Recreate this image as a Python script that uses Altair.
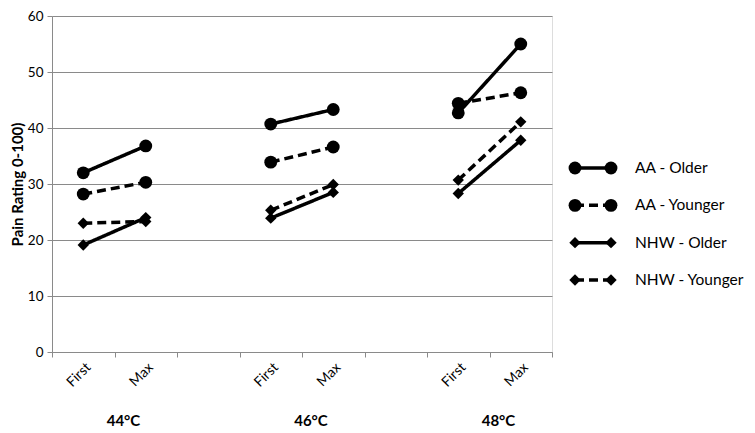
import altair as alt
import pandas as pd

groups = ["44°C", "46°C", "48°C"]
group_keys = ["44", "46", "48"]
stages = ["First", "Max"]
series = ["AA - Older", "AA - Younger", "NHW - Older", "NHW - Younger"]

# values per series: [44 First, 44 Max, 46 First, 46 Max, 48 First, 48 Max]
aa_older = [32.0, 36.8, 40.7, 43.3, 42.7, 55.0]
aa_younger = [28.2, 30.3, 33.9, 36.6, 44.4, 46.3]
nhw_older = [19.1, 24.0, 23.9, 28.5, 28.3, 37.8]
nhw_younger = [23.0, 23.3, 25.3, 29.9, 30.7, 41.1]

cats = ["44|First", "44|Max", "gap1", "46|First", "46|Max", "gap2", "48|First", "48|Max"]

rows = []
for s, vals in zip(series, [aa_older, aa_younger, nhw_older, nhw_younger]):
    i = 0
    for gk, g in zip(group_keys, groups):
        for st in stages:
            rows.append({"series": s, "group": g, "cat": f"{gk}|{st}", "value": vals[i],
                         "kind": "AA" if s.startswith("AA") else "NHW"})
            i += 1
df = pd.DataFrame(rows)

labels_df = pd.DataFrame({"group": groups, "cat": ["44|Max", "46|Max", "48|Max"]})

leg_rows = []
for s in series:
    for e in [0, 1]:
        leg_rows.append({"series": s, "end": e, "kind": "AA" if s.startswith("AA") else "NHW"})
leg_df = pd.DataFrame(leg_rows)

FONT = "Lato"
GRID = "#8a8a8a"

dash_scale = alt.Scale(domain=series, range=[[1, 0], [9, 5], [1, 0], [9, 5]])

x_enc = alt.X("cat:N", scale=alt.Scale(domain=cats, paddingInner=0, paddingOuter=0),
              axis=alt.Axis(title=None, labelAngle=-45, tickBand="extent",
                            labelExpr="indexof(datum.label,'|')>=0 ? split(datum.label,'|')[1] : ''",
                            labelFontSize=14, labelFont=FONT, labelColor="black",
                            domainColor=GRID, tickColor=GRID, tickSize=5, labelPadding=3,
                            grid=False))
y_enc = alt.Y("value:Q", scale=alt.Scale(domain=[0, 60], nice=False),
              axis=alt.Axis(title="Pain Rating 0-100)", values=[0, 10, 20, 30, 40, 50, 60],
                            titleFont=FONT, titleFontSize=15, titleFontWeight="bold",
                            titleColor="black", titlePadding=2,
                            labelFont=FONT, labelFontSize=13.5, labelColor="black",
                            labelPadding=4, tickSize=5, tickColor=GRID, domainColor=GRID,
                            gridColor=GRID, grid=True))

base = alt.Chart(df)
lines = base.mark_line(color="black", strokeWidth=3.5).encode(
    x=x_enc, y=y_enc,
    strokeDash=alt.StrokeDash("series:N", scale=dash_scale, legend=None),
    detail="group:N",
)
pts_c = base.transform_filter("datum.kind == 'AA'").mark_point(
    shape="circle", size=165, filled=True, color="black", opacity=1).encode(
    x=alt.X("cat:N"), y=alt.Y("value:Q"))
pts_d = base.transform_filter("datum.kind == 'NHW'").mark_point(
    shape="diamond", size=130, filled=True, color="black", opacity=1).encode(
    x=alt.X("cat:N"), y=alt.Y("value:Q"))
grp_text = alt.Chart(labels_df).mark_text(
    font=FONT, fontSize=15, fontWeight="bold", color="black", dy=69, dx=9).encode(
    x=alt.X("cat:N", bandPosition=0), y=alt.datum(0), text="group:N")

main = alt.layer(lines, pts_c, pts_d, grp_text)

lx = alt.X("end:Q", scale=alt.Scale(domain=[0, 1], range=[523, 559]), axis=None)
ly = alt.Y("series:N", scale=alt.Scale(type="point", domain=series, range=[152, 264], padding=0),
           axis=None)
lbase = alt.Chart(leg_df)
leg_line = lbase.mark_line(color="black", strokeWidth=3.5).encode(
    x=lx, y=ly, strokeDash=alt.StrokeDash("series:N", scale=dash_scale, legend=None))
leg_c = lbase.transform_filter("datum.kind == 'AA'").mark_point(
    shape="circle", size=165, filled=True, color="black", opacity=1).encode(x=lx, y=ly)
leg_d = lbase.transform_filter("datum.kind == 'NHW'").mark_point(
    shape="diamond", size=130, filled=True, color="black", opacity=1).encode(x=lx, y=ly)
leg_t = lbase.transform_filter("datum.end == 1").mark_text(
    font=FONT, fontSize=15.5, color="black", align="left", dx=24).encode(
    x=lx, y=ly, text="series:N")
legend = alt.layer(leg_line, leg_c, leg_d, leg_t)

chart = alt.layer(main, legend).resolve_scale(x="independent", y="independent").properties(
    width=500, height=336, padding={"left": 2, "top": 1, "right": 0, "bottom": 0}
).configure_view(stroke=None).configure(background="white")

chart.save("out.html", embed_options={"renderer": "svg", "actions": False})
